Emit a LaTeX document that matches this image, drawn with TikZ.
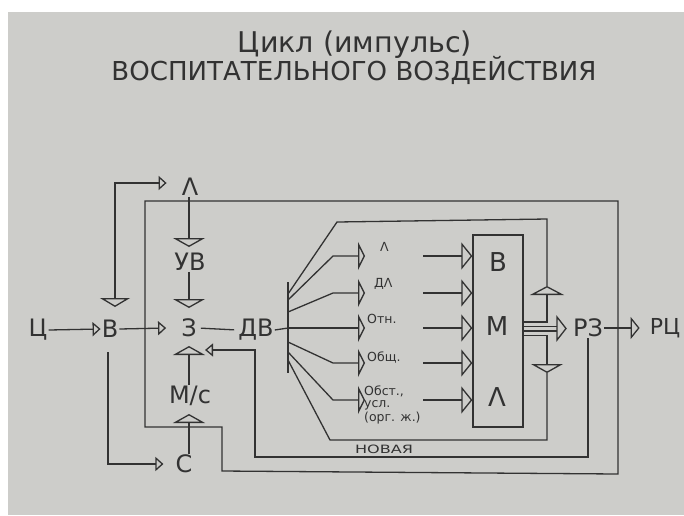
\documentclass[tikz,border=0pt]{standalone}
\usepackage{fontspec}
\setmainfont{DejaVu Sans}
\usepackage{graphicx}
\usetikzlibrary{arrows.meta}
\definecolor{paper}{RGB}{205,205,202}
\definecolor{ink}{RGB}{50,50,50}
\tikzset{
  big/.style={text=ink, inner sep=1pt, font=\fontsize{24}{24}\selectfont},
  boxl/.style={text=ink, inner sep=1pt, font=\fontsize{26}{26}\selectfont},
  lab/.style={text=ink, inner sep=0pt, font=\fontsize{12.5}{12}\selectfont, align=left},
  wire/.style={draw=ink, line width=1.3pt},
  tipS/.style={-{Triangle[open,length=8pt,width=14pt]}},
  tipL/.style={-{Triangle[open,length=8pt,width=13pt]}},
  wideTip/.style={-{Triangle[open,length=9pt,width=32pt]}},
  midTip/.style={-{Triangle[open,length=7pt,width=28pt]}},
  boxTip/.style={-{Triangle[open,length=11pt,width=27pt]}},
}
\begin{document}
\begin{tikzpicture}[x=1pt,y=-1pt]
\useasboundingbox (0,0) rectangle (684,515);
\fill[white] (0,0) rectangle (684,515);
\fill[paper] (8,12) rectangle (684,515);

% title
\node[text=ink, inner sep=0pt] (T1) at (355,45) {\resizebox{234pt}{!}{Цикл (импульс)}};
\node[text=ink, inner sep=0pt] (T2) at (354,70) {\resizebox{485pt}{!}{ВОСПИТАТЕЛЬНОГО ВОЗДЕЙСТВИЯ}};

% main letters
\node[big] (C1) at (38,330) {Ц};
\node[big] (B) at (110,329) {В};
\node[big] (Z) at (189,328) {З};
\node[big] (DV) at (256,330) {ДВ};
\node[big] (UV) at (190,262) {УВ};
\node[big] (L) at (190,187) {Λ};
\node[big] (MC) at (190,396) {М/с};
\node[big] (S) at (184,464) {С};
\node[draw=ink, line width=1.3pt, minimum width=50pt, minimum height=192pt, inner sep=0pt] (box) at (498,331) {};
\node[boxl] (bB) at (498,262) {В};
\node[boxl] (bM) at (497,326) {М};
\node[boxl] (bL) at (497,397) {Λ};
\node[big] (RZ) at (588,328) {РЗ};
\node[text=ink, inner sep=1pt, font=\fontsize{22}{22}\selectfont] (RC) at (665,328) {РЦ};

% small labels
\node[lab, anchor=west] (l1) at (380,247) {Λ};
\node[lab, anchor=west] (l2) at (374,284) {ДΛ};
\node[lab, anchor=west] (l3) at (367,319) {Отн.};
\node[lab, anchor=west] (l4) at (367,357) {Общ.};
\node[lab, anchor=north west] (l5) at (364,386) {Обст.,\\усл.\\(орг. ж.)};
\node[text=ink, inner sep=0pt] (nov) at (384,449) {\resizebox{58pt}{8.5pt}{НОВАЯ}};

% left chain
\draw[wire,tipS] (C1.east) -- (B.west);
\draw[wire,tipS] (B.east) -- ([xshift=-14pt]Z.west);
\draw[wire,shorten <=3pt,shorten >=3pt] (Z.east) -- (DV.west);
\coordinate (barT) at (288,282);
\coordinate (barB) at (288,373);
\coordinate (bar) at (288,328);
\draw[wire] (barT) -- (barB);
\draw[wire] (DV.east) -- (bar);

% B up to Lambda and down to C
\coordinate (bl1) at (115,183);
\draw[wire,{Triangle[open,length=9pt,width=30pt]}-{Triangle[open,length=8pt,width=14pt]}]
  (115,307) -- (bl1) -- ([xshift=-14pt]L.west |- bl1);
\draw[wire,tipS] (108,352) |- ([xshift=-11pt]S.west);

% vertical column
\draw[wire,wideTip] (L.south -| Z) -- (189,247);
\draw[wire,wideTip] (UV.south -| Z) -- (189,308);
\draw[wire,wideTip] (MC.north -| Z) -- (189,346);
\draw[wire,wideTip] (S.north -| Z) -- (189,414);

% outer frame
\draw[wire] (145,201) -- (618,201) -- (618,474) -- (222,471) -- (222,427) -- (145,427) -- cycle;

% feedback (new)
\draw[wire,tipL] (RZ.south) |- (255,457) -- (255,350) -- (205,350);

% fan to categories
\foreach \y/\s in {256/300, 293/312, 363/342, 400/352}
  \draw[wire,midTip] (288,\s) -- (333,\y) -- (365,\y);
\draw[wire,midTip] (bar) -- (365,328);
\foreach \y in {256,293,328,363,400}
  \draw[wire,boxTip] (423,\y) -- (box.west |- 0,\y);

% second frame
\draw[wire,-{Triangle[open,length=9pt,width=34pt]}] (box.east |- 0,322) -- (547,322) -- (547,286);
\draw[wire] (547,286) -- (547,219) -- (337,222) -- (288,294);
\draw[wire,-{Triangle[open,length=9pt,width=32pt]}] (box.east |- 0,335.5) -- (547,335.5) -- (547,373);
\draw[wire] (547,373) -- (547,440) -- (330,440) -- (288,360);

% double line to RZ
\draw[draw=ink, line width=1.1pt] (box.east |- 0,326.5) -- (557,326.5);
\draw[draw=ink, line width=1.1pt] (box.east |- 0,331) -- (557,331);
\draw[wire] (557,317) -- (566,328.5) -- (557,340) -- cycle;

% RZ to RC
\draw[wire,-{Triangle[open,length=9pt,width=22pt]}] (RZ.east) -- ([xshift=-9pt]RC.west);
\end{tikzpicture}
\end{document}
